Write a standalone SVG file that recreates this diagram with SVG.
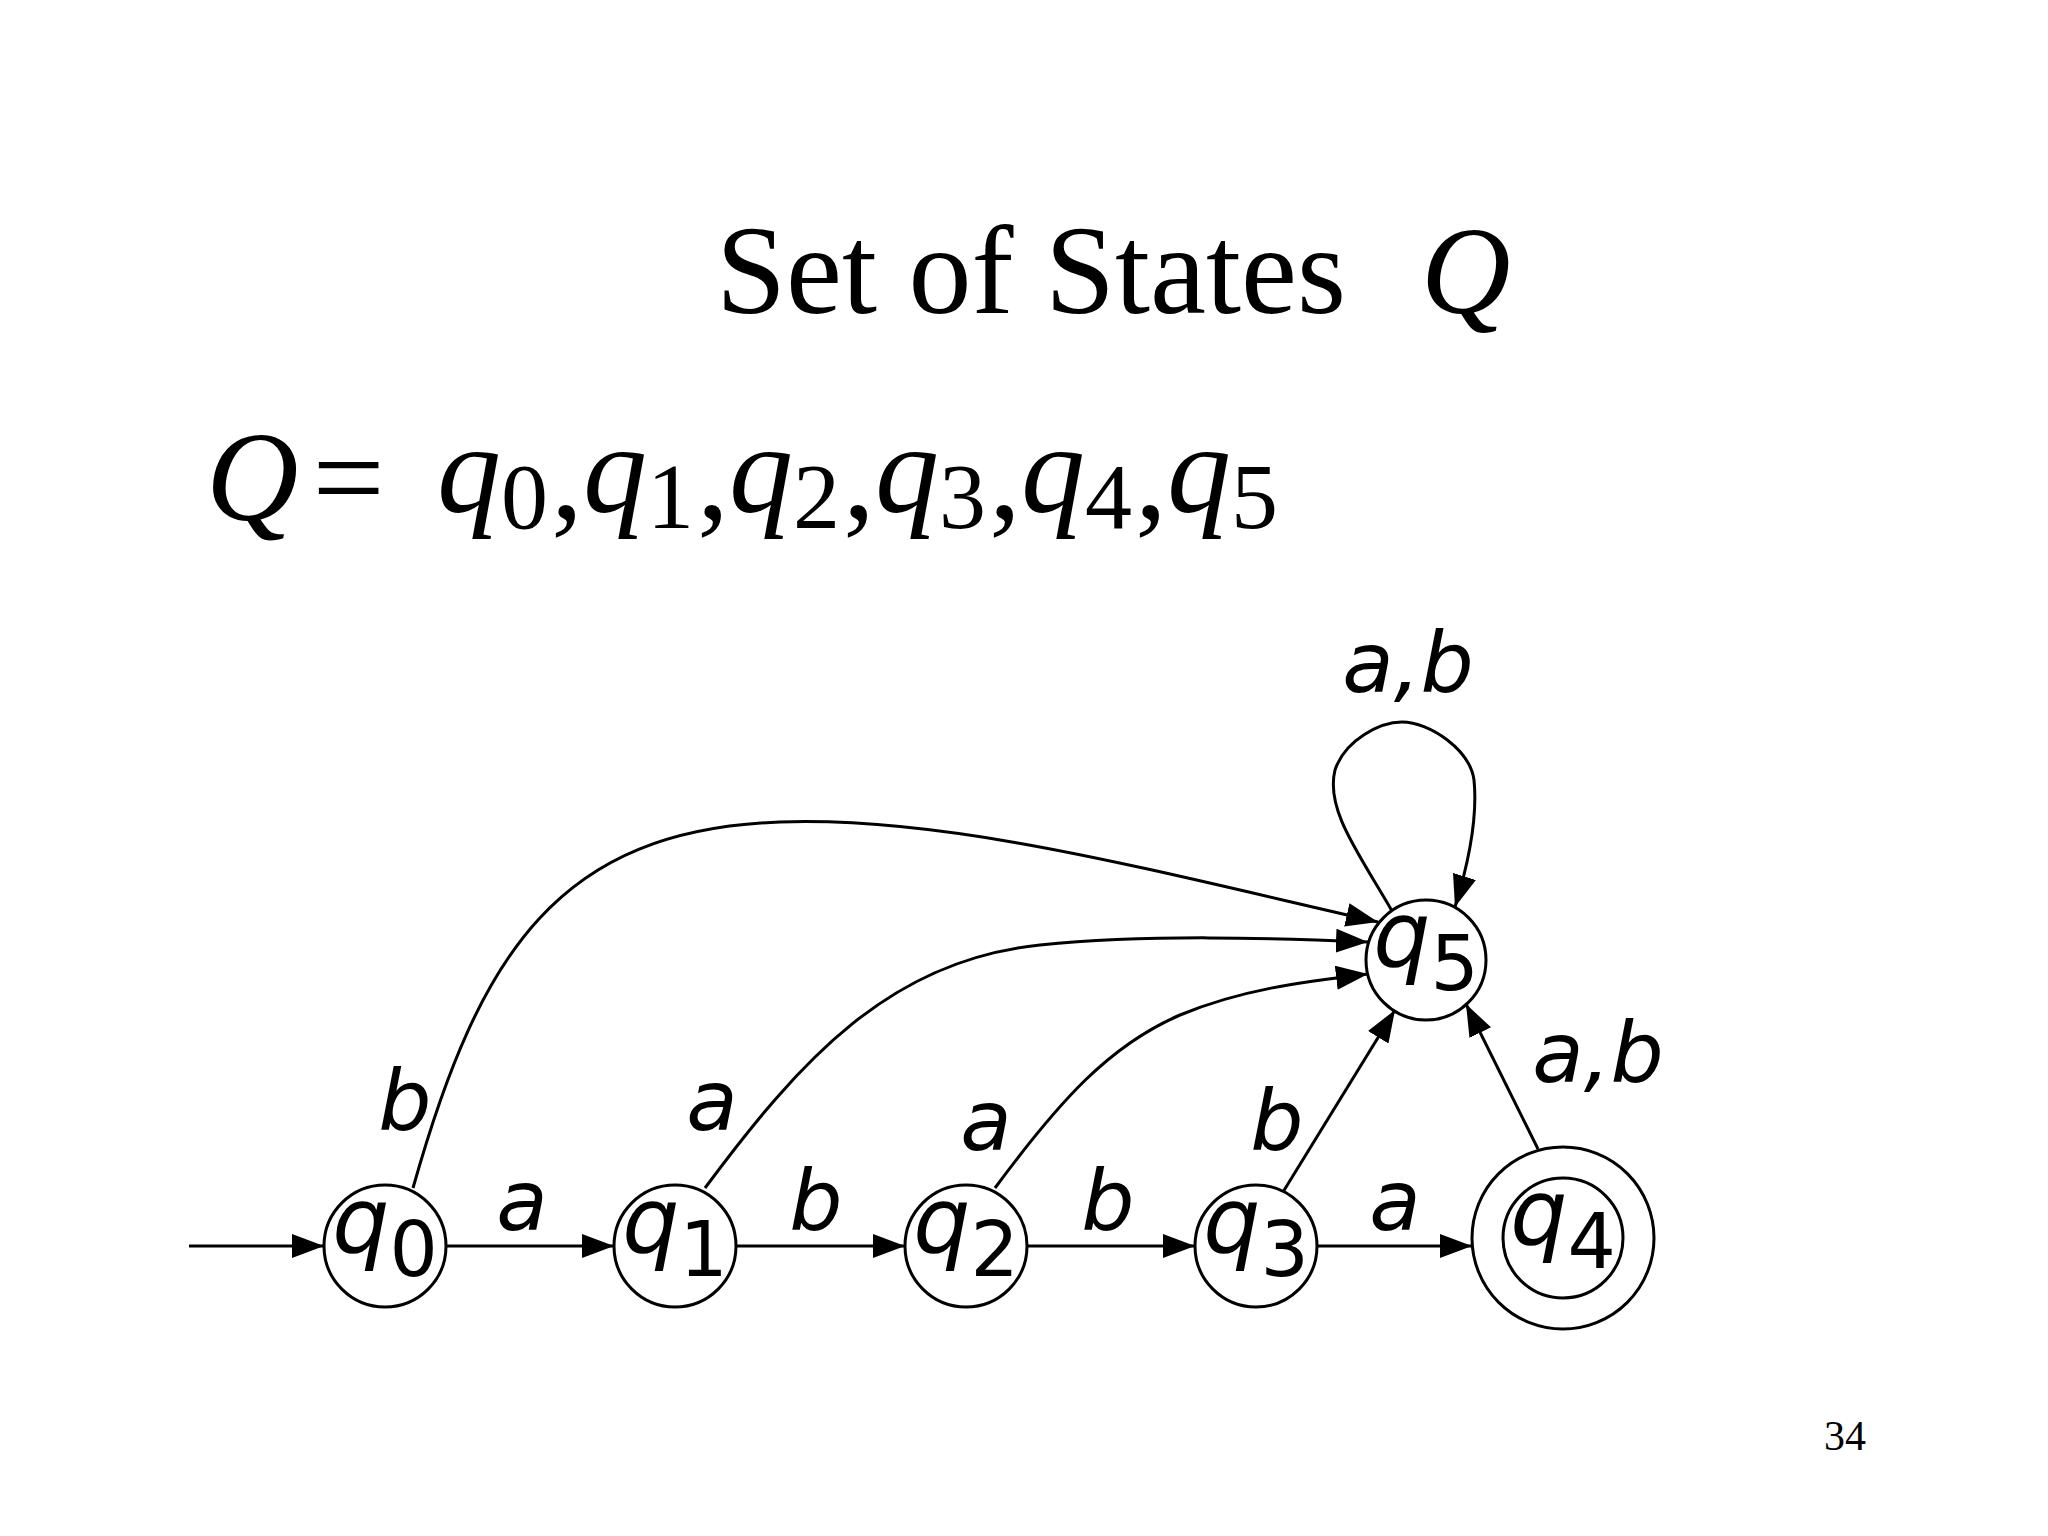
<svg xmlns="http://www.w3.org/2000/svg" width="2048" height="1536" viewBox="0 0 2048 1536">
<style>
.st{fill:#fff;stroke:#000;stroke-width:3}
.ln{fill:none;stroke:#000;stroke-width:3}
.nl{font-family:"DejaVu Sans",sans-serif;font-style:italic;font-size:90px;fill:#000;text-anchor:middle}
.sub{font-size:76px;font-style:normal}
.el{font-family:"DejaVu Sans",sans-serif;font-style:italic;font-size:84px;fill:#000;text-anchor:middle}
.tm{font-family:"Liberation Serif",serif;fill:#000}
</style>
<defs>
<marker id="ah" viewBox="0 0 32 24" refX="32" refY="12" markerWidth="32" markerHeight="24" markerUnits="userSpaceOnUse" orient="auto">
<path d="M0,0 L32,12 L0,24 z" fill="#000"/>
</marker>
</defs>
<rect width="2048" height="1536" fill="#fff"/>
<text class="tm" x="716" y="313" font-size="126">Set of States</text>
<text class="tm" x="1421" y="313" font-size="124" font-style="italic">Q</text>
<text class="tm" x="206" y="520" font-size="128"><tspan font-style="italic">Q</tspan><tspan dx="14">=</tspan></text>
<text class="tm" x="437" y="512" font-size="128"><tspan font-style="italic">q</tspan><tspan font-size="94" dy="16">0</tspan><tspan dy="-10" dx="3">,</tspan><tspan font-style="italic" dy="-6">q</tspan><tspan font-size="94" dy="16">1</tspan><tspan dy="-10" dx="3">,</tspan><tspan font-style="italic" dy="-6">q</tspan><tspan font-size="94" dy="16">2</tspan><tspan dy="-10" dx="3">,</tspan><tspan font-style="italic" dy="-6">q</tspan><tspan font-size="94" dy="16">3</tspan><tspan dy="-10" dx="3">,</tspan><tspan font-style="italic" dy="-6">q</tspan><tspan font-size="94" dy="16">4</tspan><tspan dy="-10" dx="3">,</tspan><tspan font-style="italic" dy="-6">q</tspan><tspan font-size="94" dy="16">5</tspan></text>
<text class="tm" x="1824" y="1450" font-size="42">34</text>
<g id="connectors">
<line class="ln" x1="189" y1="1246" x2="324" y2="1246" marker-end="url(#ah)"/>
<line class="ln" x1="446" y1="1246" x2="614" y2="1246" marker-end="url(#ah)"/>
<line class="ln" x1="736" y1="1246" x2="905" y2="1246" marker-end="url(#ah)"/>
<line class="ln" x1="1027" y1="1246" x2="1195" y2="1246" marker-end="url(#ah)"/>
<line class="ln" x1="1317" y1="1246" x2="1472" y2="1246" marker-end="url(#ah)"/>
<path class="ln" d="M413 1188 C480 950 560 830 780 822 C950 816 1150 870 1378 922" marker-end="url(#ah)"/>
<path class="ln" d="M705 1188 C800 1060 890 960 1040 945 C1150 934 1270 938 1368 942" marker-end="url(#ah)"/>
<path class="ln" d="M995 1188 C1060 1100 1110 1045 1180 1015 C1240 990 1300 982 1368 974" marker-end="url(#ah)"/>
<line class="ln" x1="1283" y1="1192" x2="1395" y2="1010" marker-end="url(#ah)"/>
<line class="ln" x1="1538" y1="1149" x2="1466" y2="1004" marker-end="url(#ah)"/>
<path class="ln" d="M1392 911 C1360 855 1325 810 1335 770 C1345 740 1380 722 1402 722 C1430 722 1470 750 1474 780 C1478 820 1468 865 1455 907" marker-end="url(#ah)"/>
<text class="el" x="522" y="1230">a</text>
<text class="el" x="816" y="1230">b</text>
<text class="el" x="1108" y="1230">b</text>
<text class="el" x="1395" y="1230">a</text>
<text class="el" x="405" y="1130">b</text>
<text class="el" x="712" y="1130">a</text>
<text class="el" x="986" y="1150">a</text>
<text class="el" x="1277" y="1150">b</text>
<text class="el" x="1598" y="1082">a,b</text>
<text class="el" x="1408" y="692">a,b</text>
</g>
<g id="q0"><circle class="st" cx="385" cy="1246" r="61"/><text class="nl" x="385" y="1252">q<tspan class="sub" dy="24">0</tspan></text></g>
<g id="q1"><circle class="st" cx="675" cy="1246" r="61"/><text class="nl" x="675" y="1252">q<tspan class="sub" dy="24">1</tspan></text></g>
<g id="q2"><circle class="st" cx="966" cy="1246" r="61"/><text class="nl" x="966" y="1252">q<tspan class="sub" dy="24">2</tspan></text></g>
<g id="q3"><circle class="st" cx="1256" cy="1246" r="61"/><text class="nl" x="1256" y="1252">q<tspan class="sub" dy="24">3</tspan></text></g>
<g id="q4"><circle class="st" cx="1563" cy="1238" r="91"/><circle class="st" cx="1563" cy="1238" r="60"/><text class="nl" x="1563" y="1244">q<tspan class="sub" dy="24">4</tspan></text></g>
<g id="q5"><circle class="st" cx="1426" cy="960" r="60"/><text class="nl" x="1426" y="966">q<tspan class="sub" dy="24">5</tspan></text></g>
</svg>
